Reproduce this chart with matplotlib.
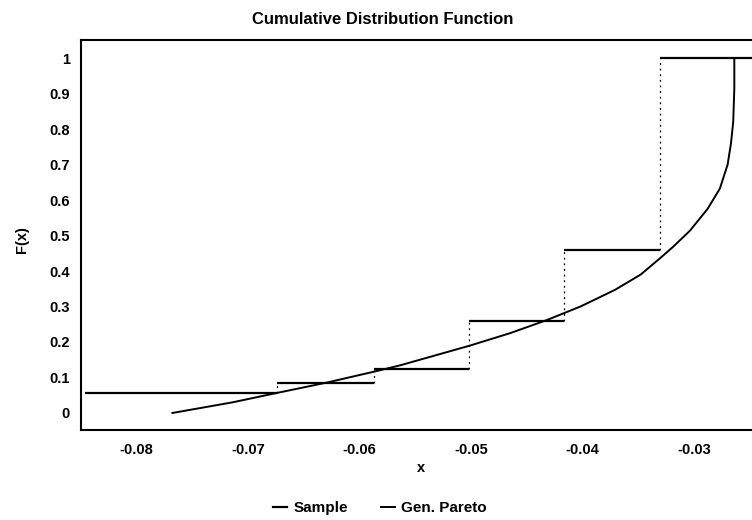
import matplotlib.pyplot as plt
import numpy as np

plt.rcParams['font.family'] = ['Liberation Sans', 'DejaVu Sans']

# Empirical CDF of the sample: step edges and levels
sample_edges = [-0.0846, -0.0674, -0.0587, -0.0502, -0.0417, -0.0331, -0.0200]
sample_levels = [0.056, 0.084, 0.124, 0.259, 0.459, 1.0]

# Fitted generalized Pareto CDF
pareto_x = [-0.0768, -0.0714, -0.0681, -0.0629, -0.0585, -0.0564, -0.0501,
            -0.0465, -0.0432, -0.0402, -0.0371, -0.0348, -0.0331, -0.0319,
            -0.0304, -0.0288, -0.0277, -0.0270, -0.0267, -0.0265, -0.0264,
            -0.0264]
pareto_f = [0.0, 0.030, 0.052, 0.086, 0.118, 0.134, 0.190,
            0.225, 0.262, 0.300, 0.347, 0.390, 0.435, 0.468,
            0.513, 0.575, 0.632, 0.700, 0.760, 0.820, 0.915,
            1.0]

x_ticks = [-0.08, -0.07, -0.06, -0.05, -0.04, -0.03]
y_ticks = [0, 0.1, 0.2, 0.3, 0.4, 0.5, 0.6, 0.7, 0.8, 0.9, 1]
y_tick_labels = ['0', '0.1', '0.2', '0.3', '0.4', '0.5', '0.6', '0.7', '0.8', '0.9', '1']

fig = plt.figure(figsize=(7.52, 5.2), dpi=100)
ax = fig.add_axes([81 / 752, 90 / 520, 689 / 752, 390 / 520])

# sample steps: solid treads, dotted risers
ax.hlines(sample_levels, sample_edges[:-1], sample_edges[1:], colors='black', lw=1.6)
ax.vlines(sample_edges[1:-1], sample_levels[:-1], sample_levels[1:],
          colors='black', lw=0.9, linestyles=(0, (1.5, 3)))
sample_handle, = ax.plot([], [], color='black', lw=1.6, label='Sample')

pareto_handle, = ax.plot(pareto_x, pareto_f, color='black', lw=1.4,
                         solid_joinstyle='round', label='Gen. Pareto')

ax.set_xlim(-0.0850, -0.0232)
ax.set_ylim(-0.048, 1.051)
ax.set_xticks(x_ticks)
ax.set_xticklabels([f"{t:.2f}" for t in x_ticks])
ax.set_yticks(y_ticks)
ax.set_yticklabels(y_tick_labels)
ax.tick_params(length=0, labelsize=10.5)
ax.tick_params(axis='x', pad=9)
ax.tick_params(axis='y', pad=8)
for lbl in ax.get_xticklabels() + ax.get_yticklabels():
    lbl.set_fontweight('bold')

for side in ['left', 'bottom', 'top']:
    ax.spines[side].set_linewidth(1.5)
ax.spines['right'].set_visible(False)

fig.text(383 / 752, 1 - 20 / 520, 'Cumulative Distribution Function',
         ha='center', va='center', fontsize=12, fontweight='bold')
fig.text(22 / 752, 1 - 240 / 520, 'F(x)', rotation=90,
         ha='center', va='center', fontsize=10.5, fontweight='bold')
fig.text(421 / 752, 1 - 468 / 520, 'x', ha='center', va='center',
         fontsize=10.5, fontweight='bold')

fig.legend(handles=[sample_handle, pareto_handle], loc='center',
           bbox_to_anchor=(380 / 752, 1 - 508 / 520), ncol=2, frameon=False,
           handlelength=0.9, handletextpad=0.4, columnspacing=2.2,
           prop={'size': 11, 'weight': 'bold'})

fig.savefig('out.png', dpi=100)
